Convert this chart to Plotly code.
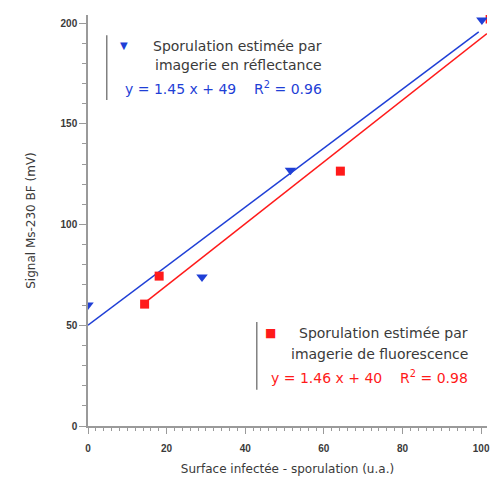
import plotly.graph_objects as go

# Data
refl_x = [0, 29, 51.5, 100.2]
refl_y = [60, 74, 127, 201.5]
fluo_x = [14.4, 18.1, 64.2, 102.3]
fluo_y = [60.5, 74.4, 126.5, 202]

# Fitted lines as drawn (slope, intercept, x extent)
refl_fit = (1.465, 50.0)
refl_fit_x = [0, 99.4]
fluo_fit = (1.535, 39.0)
fluo_fit_x = [14.4, 101.5]

x_ticks = [0, 20, 40, 60, 80, 100]
y_ticks = [0, 50, 100, 150, 200]

BLUE = "#1f3fd6"
RED = "#ff1a1a"
GREY_TXT = "#3a3a3a"
AX = "#9a9a9a"
FONT = "DejaVu Sans, sans-serif"
TICKFONT = "Liberation Sans, Arial, sans-serif"

fig = go.Figure()
fig.add_trace(go.Scatter(x=refl_fit_x, y=[refl_fit[0] * v + refl_fit[1] for v in refl_fit_x],
                         mode="lines", line=dict(color=BLUE, width=1.5), showlegend=False))
fig.add_trace(go.Scatter(x=fluo_fit_x, y=[fluo_fit[0] * v + fluo_fit[1] for v in fluo_fit_x],
                         mode="lines", line=dict(color=RED, width=1.5), showlegend=False))
fig.add_trace(go.Scatter(x=fluo_x, y=fluo_y, mode="markers",
                         marker=dict(symbol="square", size=9, color=RED), showlegend=False))
fig.add_trace(go.Scatter(x=refl_x, y=refl_y, mode="markers",
                         marker=dict(symbol="triangle-down", size=10, color=BLUE), showlegend=False))

fig.update_layout(
    width=490, height=479,
    margin=dict(l=88, r=0, t=15, b=53),
    plot_bgcolor="white", paper_bgcolor="white",
    font=dict(family=FONT, size=12, color=GREY_TXT),
    showlegend=False,
)
fig.update_xaxes(
    range=[0, 101.5], tickvals=x_ticks, ticks="outside", ticklen=6, tickcolor=AX,
    showline=True, linecolor=AX, linewidth=1.5, showgrid=False, zeroline=False,
    minor=dict(dtick=2, ticks="outside", ticklen=3, tickcolor=AX, showgrid=False),
    tickfont=dict(size=10, color=GREY_TXT, family=TICKFONT, weight="bold"), ticklabelstandoff=6,
    ticklabeloverflow="allow",
    title=dict(text="Surface infectée - sporulation (u.a.)", font=dict(size=12, color=GREY_TXT), standoff=12),
)
fig.update_yaxes(
    range=[0, 204], tickvals=y_ticks, ticks="outside", ticklen=7, tickcolor=AX,
    showline=True, linecolor=AX, linewidth=1.5, showgrid=False, zeroline=False,
    minor=dict(dtick=10, ticks="outside", ticklen=4, tickcolor=AX, showgrid=False),
    tickfont=dict(size=10, color=GREY_TXT, family=TICKFONT, weight="bold"),
    title=dict(text="Signal Ms-230 BF (mV)", font=dict(size=12, color=GREY_TXT), standoff=22),
)

# Legend blocks (top: reflectance, bottom: fluorescence)
fig.add_shape(type="line", xref="paper", yref="paper", x0=0.047, x1=0.047, y0=0.793, y1=0.951,
              line=dict(color="#808080", width=1.5))
fig.add_shape(type="line", xref="paper", yref="paper", x0=0.423, x1=0.423, y0=0.088, y1=0.253,
              line=dict(color="#808080", width=1.5))

def ann(x, y, text, color=GREY_TXT, size=14, xanchor="right"):
    fig.add_annotation(x=x, y=y, xref="paper", yref="paper", text=text, showarrow=False,
                       xanchor=xanchor, yanchor="middle", font=dict(family=FONT, size=size, color=color))

ann(0.0896, 0.925, "▼", BLUE, 10, "center")
ann(0.592, 0.925, "Sporulation estimée par")
ann(0.592, 0.878, "imagerie en réflectance")
ann(0.592, 0.822, "y = 1.45 x + 49&nbsp;&nbsp;&nbsp;&nbsp;R<sup>2</sup> = 0.96", BLUE)

ann(0.458, 0.226, "■", RED, 12, "center")
ann(0.958, 0.226, "Sporulation estimée par")
ann(0.958, 0.175, "imagerie de fluorescence")
ann(0.958, 0.119, "y = 1.46 x + 40&nbsp;&nbsp;&nbsp;&nbsp;R<sup>2</sup> = 0.98", RED)

fig.write_html("out.html", config={"displayModeBar": False},
               post_script="document.body.style.margin='0';document.body.style.overflow='hidden';")
